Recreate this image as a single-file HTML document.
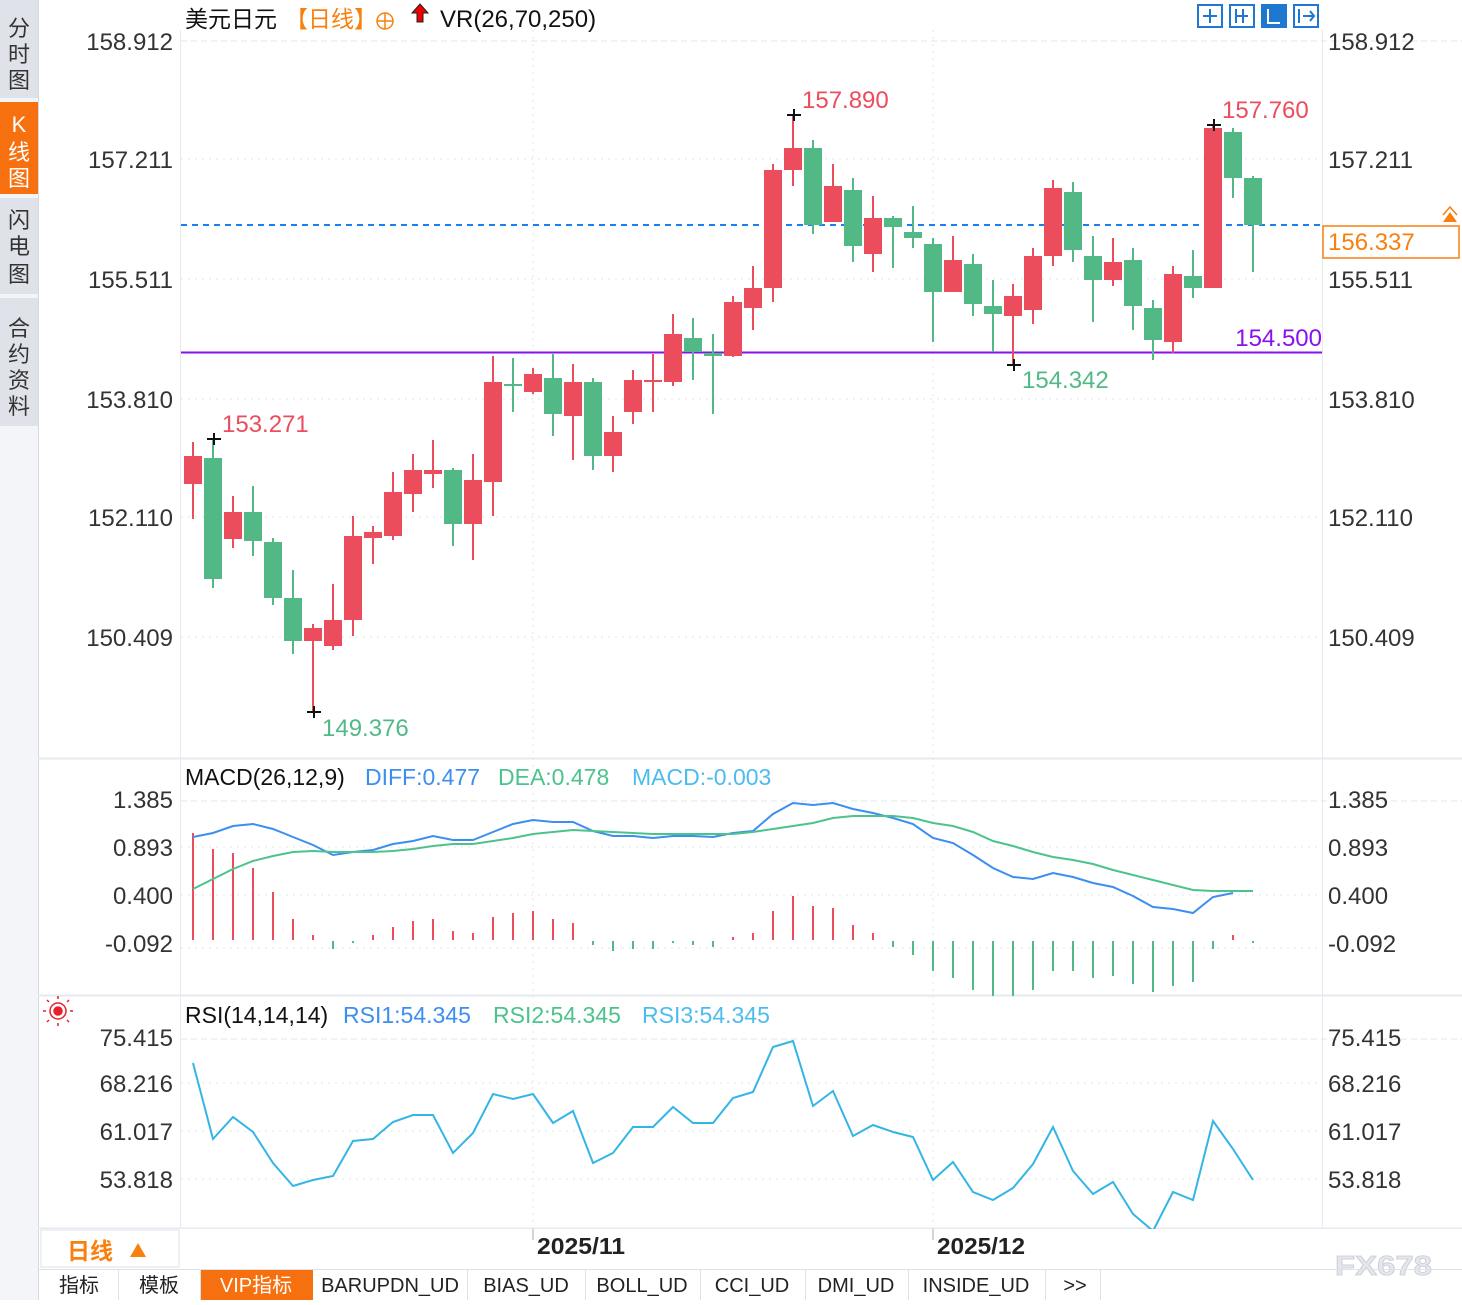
<!DOCTYPE html>
<html><head><meta charset="utf-8"><style>
html,body{margin:0;padding:0;background:#fff;}
svg text{font-family:"Liberation Sans","Noto Sans CJK SC",sans-serif;}
</style></head><body>
<svg width="1462" height="1300" viewBox="0 0 1462 1300" xmlns="http://www.w3.org/2000/svg">
<rect width="1462" height="1300" fill="#fff"/>
<!-- sidebar -->
<rect x="0" y="0" width="38" height="1300" fill="#f3f5f8"/>
<rect x="0" y="0" width="38" height="98" fill="#dfe2e8"/>
<rect x="0" y="102" width="38" height="92" fill="#f7700f"/>
<rect x="0" y="198" width="38" height="96" fill="#dfe2e8"/>
<rect x="0" y="298" width="38" height="128" fill="#dfe2e8"/>
<line x1="38.5" y1="0" x2="38.5" y2="1300" stroke="#d5dae2"/>
<g font-size="22" fill="#333" text-anchor="middle">
<text x="19" y="36">分</text><text x="19" y="62">时</text><text x="19" y="88">图</text>
<text x="19" y="132" fill="#fff">K</text><text x="19" y="160" fill="#fff">线</text><text x="19" y="186" fill="#fff">图</text>
<text x="19" y="228">闪</text><text x="19" y="254">电</text><text x="19" y="282">图</text>
<text x="19" y="336">合</text><text x="19" y="362">约</text><text x="19" y="388">资</text><text x="19" y="414">料</text>
</g>
<line x1="180.5" y1="30" x2="180.5" y2="1228" stroke="#e6eaf0"/>
<line x1="1322.5" y1="30" x2="1322.5" y2="1228" stroke="#e6eaf0"/>
<line x1="38" y1="758.5" x2="1462" y2="758.5" stroke="#e6eaf0" stroke-width="2"/>
<line x1="38" y1="995.5" x2="1462" y2="995.5" stroke="#e6eaf0" stroke-width="2"/>
<line x1="38" y1="1228.5" x2="1462" y2="1228.5" stroke="#e6eaf0" stroke-width="2"/>
<g stroke="#e3e6ea" stroke-dasharray="2,5">
<line x1="181" y1="159" x2="1322" y2="159"/><line x1="181" y1="279" x2="1322" y2="279"/><line x1="181" y1="399" x2="1322" y2="399"/><line x1="181" y1="517" x2="1322" y2="517"/><line x1="181" y1="637" x2="1322" y2="637"/>
<line x1="181" y1="847" x2="1322" y2="847"/><line x1="181" y1="895" x2="1322" y2="895"/><line x1="181" y1="948" x2="1322" y2="948"/>
<line x1="181" y1="1083" x2="1322" y2="1083"/><line x1="181" y1="1131" x2="1322" y2="1131"/><line x1="181" y1="1179" x2="1322" y2="1179"/>
<line x1="533" y1="30" x2="533" y2="1228"/><line x1="933" y1="30" x2="933" y2="1228"/>
</g>
<g stroke="#e3e6ea" stroke-dasharray="6,4">
<line x1="181" y1="41" x2="1462" y2="41"/><line x1="181" y1="801" x2="1462" y2="801"/><line x1="181" y1="1039" x2="1462" y2="1039"/>
</g>
<g font-size="24" fill="#333" text-anchor="end">
<text x="173" y="50">158.912</text><text x="173" y="168">157.211</text><text x="173" y="288">155.511</text><text x="173" y="408">153.810</text><text x="173" y="526">152.110</text><text x="173" y="646">150.409</text>
<text x="173" y="808">1.385</text><text x="173" y="856">0.893</text><text x="173" y="904">0.400</text><text x="173" y="952">-0.092</text>
<text x="173" y="1046">75.415</text><text x="173" y="1092">68.216</text><text x="173" y="1140">61.017</text><text x="173" y="1188">53.818</text>
</g>
<g font-size="24" fill="#333">
<text x="1328" y="50">158.912</text><text x="1328" y="168">157.211</text><text x="1328" y="288">155.511</text><text x="1328" y="408">153.810</text><text x="1328" y="526">152.110</text><text x="1328" y="646">150.409</text>
<text x="1328" y="808">1.385</text><text x="1328" y="856">0.893</text><text x="1328" y="904">0.400</text><text x="1328" y="952">-0.092</text>
<text x="1328" y="1046">75.415</text><text x="1328" y="1092">68.216</text><text x="1328" y="1140">61.017</text><text x="1328" y="1188">53.818</text>
</g>
<!-- title -->
<text x="185" y="27" font-size="23" fill="#111">美元日元</text>
<text x="285" y="27" font-size="23" fill="#f7800f">【日线】</text>
<circle cx="385" cy="21" r="8" fill="none" stroke="#f7800f" stroke-width="1.5"/><line x1="377" y1="21" x2="393" y2="21" stroke="#f7800f" stroke-width="1.5"/><line x1="385" y1="13" x2="385" y2="29" stroke="#f7800f" stroke-width="1.5"/>
<path d="M420 4 L428 13 L423 13 L423 22 L417 22 L417 13 L412 13 Z" fill="#e00" stroke="#222" stroke-width="1"/>
<text x="440" y="27" font-size="24" fill="#111">VR(26,70,250)</text>
<g fill="none" stroke="#1e78d0" stroke-width="2">
<rect x="1198" y="5" width="24" height="22"/><rect x="1230" y="5" width="24" height="22"/><rect x="1262" y="5" width="24" height="22" fill="#1e78d0"/><rect x="1294" y="5" width="24" height="22"/>
<path d="M1210 9v14M1203 16h14M1236 9v14M1243 9v14M1236 16h12M1299 9v14M1303 16h11M1310 11l4 5-4 5"/>
<path d="M1268 9v14h12" stroke="#fff"/>
</g>
<line x1="181" y1="225" x2="1322" y2="225" stroke="#1a7ff0" stroke-width="2" stroke-dasharray="6,5"/>
<line x1="181" y1="352.5" x2="1322" y2="352.5" stroke="#8a10ee" stroke-width="2"/>
<text x="1322" y="346" font-size="24" fill="#8a10ee" text-anchor="end">154.500</text>
<rect x="1323" y="226" width="136" height="32" fill="#fff" stroke="#f7800f" stroke-width="1.5"/>
<text x="1328" y="250" font-size="24" fill="#f7800f">156.337</text>
<path d="M1443 222 L1450 212 L1457 222 Z" fill="#f7800f"/><path d="M1443 215 L1450 207 L1457 215" fill="none" stroke="#f7800f" stroke-width="1.5"/>
<g>
<g stroke="#eb4d5c" stroke-width="2">
<line x1="193" y1="442" x2="193" y2="519"/><line x1="233" y1="496" x2="233" y2="548"/><line x1="313" y1="624" x2="313" y2="712"/><line x1="333" y1="584" x2="333" y2="650"/><line x1="353" y1="516" x2="353" y2="636"/><line x1="373" y1="526" x2="373" y2="564"/><line x1="393" y1="472" x2="393" y2="540"/><line x1="413" y1="454" x2="413" y2="512"/><line x1="433" y1="440" x2="433" y2="488"/><line x1="473" y1="454" x2="473" y2="560"/><line x1="493" y1="356" x2="493" y2="516"/><line x1="533" y1="368" x2="533" y2="394"/><line x1="573" y1="364" x2="573" y2="460"/><line x1="613" y1="416" x2="613" y2="472"/><line x1="633" y1="370" x2="633" y2="424"/><line x1="653" y1="354" x2="653" y2="412"/><line x1="673" y1="314" x2="673" y2="386"/><line x1="733" y1="296" x2="733" y2="357"/><line x1="753" y1="266" x2="753" y2="330"/><line x1="773" y1="164" x2="773" y2="302"/><line x1="793" y1="115" x2="793" y2="186"/><line x1="833" y1="164" x2="833" y2="222"/><line x1="873" y1="196" x2="873" y2="272"/><line x1="953" y1="236" x2="953" y2="292"/><line x1="1013" y1="284" x2="1013" y2="365"/><line x1="1033" y1="248" x2="1033" y2="324"/><line x1="1053" y1="180" x2="1053" y2="266"/><line x1="1113" y1="238" x2="1113" y2="286"/><line x1="1173" y1="266" x2="1173" y2="353"/><line x1="1213" y1="125" x2="1213" y2="288"/>
</g>
<g fill="#eb4d5c">
<rect x="184" y="456" width="18" height="28"/><rect x="224" y="512" width="18" height="27"/><rect x="304" y="628" width="18" height="13"/><rect x="324" y="620" width="18" height="26"/><rect x="344" y="536" width="18" height="84"/><rect x="364" y="532" width="18" height="6"/><rect x="384" y="492" width="18" height="44"/><rect x="404" y="470" width="18" height="24"/><rect x="424" y="470" width="18" height="4"/><rect x="464" y="480" width="18" height="44"/><rect x="484" y="382" width="18" height="100"/><rect x="524" y="374" width="18" height="18"/><rect x="564" y="382" width="18" height="34"/><rect x="604" y="432" width="18" height="24"/><rect x="624" y="380" width="18" height="32"/><rect x="644" y="380" width="18" height="2"/><rect x="664" y="334" width="18" height="48"/><rect x="724" y="302" width="18" height="54"/><rect x="744" y="288" width="18" height="20"/><rect x="764" y="170" width="18" height="118"/><rect x="784" y="148" width="18" height="22"/><rect x="824" y="186" width="18" height="36"/><rect x="864" y="218" width="18" height="36"/><rect x="944" y="260" width="18" height="32"/><rect x="1004" y="296" width="18" height="20"/><rect x="1024" y="256" width="18" height="54"/><rect x="1044" y="188" width="18" height="68"/><rect x="1104" y="262" width="18" height="18"/><rect x="1164" y="274" width="18" height="68"/><rect x="1204" y="128" width="18" height="160"/>
</g>
<g stroke="#52b986" stroke-width="2">
<line x1="213" y1="439" x2="213" y2="588"/><line x1="253" y1="486" x2="253" y2="556"/><line x1="273" y1="538" x2="273" y2="605"/><line x1="293" y1="570" x2="293" y2="654"/><line x1="453" y1="468" x2="453" y2="546"/><line x1="513" y1="358" x2="513" y2="412"/><line x1="553" y1="354" x2="553" y2="436"/><line x1="593" y1="378" x2="593" y2="470"/><line x1="693" y1="318" x2="693" y2="380"/><line x1="713" y1="334" x2="713" y2="414"/><line x1="813" y1="140" x2="813" y2="234"/><line x1="853" y1="178" x2="853" y2="262"/><line x1="893" y1="216" x2="893" y2="268"/><line x1="913" y1="206" x2="913" y2="248"/><line x1="933" y1="238" x2="933" y2="342"/><line x1="973" y1="254" x2="973" y2="316"/><line x1="993" y1="280" x2="993" y2="352"/><line x1="1073" y1="182" x2="1073" y2="262"/><line x1="1093" y1="236" x2="1093" y2="322"/><line x1="1133" y1="248" x2="1133" y2="330"/><line x1="1153" y1="300" x2="1153" y2="360"/><line x1="1193" y1="250" x2="1193" y2="298"/><line x1="1233" y1="128" x2="1233" y2="198"/><line x1="1253" y1="176" x2="1253" y2="272"/>
</g>
<g fill="#52b986">
<rect x="204" y="458" width="18" height="121"/><rect x="244" y="512" width="18" height="29"/><rect x="264" y="542" width="18" height="56"/><rect x="284" y="598" width="18" height="43"/><rect x="444" y="470" width="18" height="54"/><rect x="504" y="384" width="18" height="2"/><rect x="544" y="378" width="18" height="36"/><rect x="584" y="382" width="18" height="74"/><rect x="684" y="338" width="18" height="14"/><rect x="704" y="353" width="18" height="3"/><rect x="804" y="148" width="18" height="77"/><rect x="844" y="190" width="18" height="56"/><rect x="884" y="218" width="18" height="9"/><rect x="904" y="232" width="18" height="6"/><rect x="924" y="244" width="18" height="48"/><rect x="964" y="264" width="18" height="40"/><rect x="984" y="306" width="18" height="8"/><rect x="1064" y="192" width="18" height="58"/><rect x="1084" y="256" width="18" height="24"/><rect x="1124" y="260" width="18" height="46"/><rect x="1144" y="308" width="18" height="32"/><rect x="1184" y="276" width="18" height="12"/><rect x="1224" y="132" width="18" height="46"/><rect x="1244" y="178" width="18" height="47"/>
</g>
</g>
<g stroke="#111" stroke-width="2">
<path d="M207 439h14M214 433v12"/><path d="M307 712h14M314 706v12"/><path d="M787 115h14M794 109v12"/><path d="M1007 365h14M1014 359v12"/><path d="M1207 125h14M1214 119v12"/>
</g>
<g font-size="24">
<text x="222" y="432" fill="#eb4d5c">153.271</text>
<text x="322" y="736" fill="#52b986">149.376</text>
<text x="802" y="108" fill="#eb4d5c">157.890</text>
<text x="1222" y="118" fill="#eb4d5c">157.760</text>
<text x="1022" y="388" fill="#52b986">154.342</text>
</g>
<!-- MACD -->
<g font-size="23">
<text x="185" y="785" fill="#111">MACD(26,12,9)</text>
<text x="365" y="785" fill="#3c8ef0">DIFF:0.477</text>
<text x="498" y="785" fill="#4cc38a">DEA:0.478</text>
<text x="632" y="785" fill="#4cbcef">MACD:-0.003</text>
</g>
<g stroke="#eb4d5c" stroke-width="2">
<line x1="193" y1="833" x2="193" y2="940"/><line x1="213" y1="849" x2="213" y2="940"/><line x1="233" y1="853" x2="233" y2="940"/><line x1="253" y1="868" x2="253" y2="940"/><line x1="273" y1="892" x2="273" y2="940"/><line x1="293" y1="919" x2="293" y2="940"/><line x1="313" y1="935" x2="313" y2="940"/><line x1="373" y1="935" x2="373" y2="940"/><line x1="393" y1="927" x2="393" y2="940"/><line x1="413" y1="921" x2="413" y2="940"/><line x1="433" y1="919" x2="433" y2="940"/><line x1="453" y1="931" x2="453" y2="940"/><line x1="473" y1="933" x2="473" y2="940"/><line x1="493" y1="917" x2="493" y2="940"/><line x1="513" y1="913" x2="513" y2="940"/><line x1="533" y1="911" x2="533" y2="940"/><line x1="553" y1="919" x2="553" y2="940"/><line x1="573" y1="923" x2="573" y2="940"/><line x1="733" y1="937" x2="733" y2="940"/><line x1="753" y1="933" x2="753" y2="940"/><line x1="773" y1="911" x2="773" y2="940"/><line x1="793" y1="896" x2="793" y2="940"/><line x1="813" y1="906" x2="813" y2="940"/><line x1="833" y1="908" x2="833" y2="940"/><line x1="853" y1="925" x2="853" y2="940"/><line x1="873" y1="933" x2="873" y2="940"/><line x1="1233" y1="935" x2="1233" y2="940"/>
</g>
<g stroke="#52b986" stroke-width="2">
<line x1="333" y1="941" x2="333" y2="949"/><line x1="353" y1="941" x2="353" y2="943"/><line x1="593" y1="941" x2="593" y2="945"/><line x1="613" y1="941" x2="613" y2="951"/><line x1="633" y1="941" x2="633" y2="949"/><line x1="653" y1="941" x2="653" y2="949"/><line x1="673" y1="941" x2="673" y2="943"/><line x1="693" y1="941" x2="693" y2="945"/><line x1="713" y1="941" x2="713" y2="947"/><line x1="893" y1="941" x2="893" y2="947"/><line x1="913" y1="941" x2="913" y2="955"/><line x1="933" y1="941" x2="933" y2="971"/><line x1="953" y1="941" x2="953" y2="978"/><line x1="973" y1="941" x2="973" y2="990"/><line x1="993" y1="941" x2="993" y2="996"/><line x1="1013" y1="941" x2="1013" y2="996"/><line x1="1033" y1="941" x2="1033" y2="990"/><line x1="1053" y1="941" x2="1053" y2="971"/><line x1="1073" y1="941" x2="1073" y2="971"/><line x1="1093" y1="941" x2="1093" y2="978"/><line x1="1113" y1="941" x2="1113" y2="976"/><line x1="1133" y1="941" x2="1133" y2="984"/><line x1="1153" y1="941" x2="1153" y2="992"/><line x1="1173" y1="941" x2="1173" y2="986"/><line x1="1193" y1="941" x2="1193" y2="982"/><line x1="1213" y1="941" x2="1213" y2="949"/><line x1="1253" y1="941" x2="1253" y2="943"/>
</g>
<polyline fill="none" stroke="#3c8ef0" stroke-width="2" points="193,837 213,833 233,826 253,824 273,829 293,837 313,845 333,855 353,852 373,850 393,844 413,841 433,836 453,840 473,840 493,832 513,824 533,820 553,822 573,822 593,831 613,836 633,836 653,838 673,836 693,836 713,837 733,833 753,831 773,814 793,803 813,805 833,803 853,809 873,813 893,818 913,824 933,838 953,843 973,855 993,868 1013,877 1033,879 1053,873 1073,877 1093,883 1113,887 1133,896 1153,907 1173,909 1193,913 1213,897 1233,893"/>
<polyline fill="none" stroke="#4cc38a" stroke-width="2" points="193,889 213,879 233,869 253,861 273,856 293,852 313,851 333,852 353,852 373,852 393,851 413,849 433,846 453,844 473,844 493,841 513,838 533,834 553,832 573,830 593,831 613,832 633,833 653,834 673,834 693,834 713,834 733,834 753,832 773,829 793,826 813,823 833,818 853,816 873,816 893,816 913,818 933,823 953,826 973,832 993,841 1013,846 1033,852 1053,857 1073,860 1093,864 1113,870 1133,875 1153,880 1173,885 1193,890 1213,891 1233,891 1253,891"/>
<!-- RSI -->
<g transform="translate(58,1011)" stroke="#e8202a" stroke-width="1.5" fill="none"><circle r="4" fill="#e8202a"/><circle r="8"/><path d="M-12 0h-3M12 0h3M0 -12v-3M0 12v3M-9 -9l-2 -2M9 9l2 2M-9 9l-2 2M9 -9l2 -2"/></g>
<g font-size="23">
<text x="185" y="1023" fill="#111">RSI(14,14,14)</text>
<text x="343" y="1023" fill="#3c8ef0">RSI1:54.345</text>
<text x="493" y="1023" fill="#4cc38a">RSI2:54.345</text>
<text x="642" y="1023" fill="#4cbcef">RSI3:54.345</text>
</g>
<polyline fill="none" stroke="#33b5e5" stroke-width="2" points="193,1063 213,1139 233,1117 253,1132 273,1163 293,1186 313,1180 333,1176 353,1141 373,1139 393,1122 413,1115 433,1115 453,1153 473,1133 493,1094 513,1099 533,1094 553,1123 573,1111 593,1163 613,1153 633,1127 653,1127 673,1107 693,1123 713,1123 733,1098 753,1092 773,1047 793,1041 813,1106 833,1091 853,1136 873,1125 893,1132 913,1137 933,1180 953,1162 973,1192 993,1200 1013,1188 1033,1164 1053,1127 1073,1171 1093,1194 1113,1182 1133,1214 1153,1231 1173,1192 1193,1200 1213,1121 1233,1149 1253,1180"/>
<!-- bottom axis -->
<rect x="39" y="1229" width="1423" height="40" fill="#fff"/>
<rect x="41" y="1230" width="138" height="37" fill="#fff" stroke="#dde2ea"/>
<text x="67" y="1259" font-size="23" fill="#f7800f" font-weight="bold">日线</text>
<path d="M130 1257 L138 1243 L146 1257 Z" fill="#f7800f"/>
<line x1="533" y1="1229" x2="533" y2="1240" stroke="#aaa"/><line x1="933" y1="1229" x2="933" y2="1240" stroke="#aaa"/>
<text x="537" y="1254" font-size="23" font-weight="bold" fill="#222" textLength="88" lengthAdjust="spacingAndGlyphs">2025/11</text>
<text x="937" y="1254" font-size="23" font-weight="bold" fill="#222" textLength="88" lengthAdjust="spacingAndGlyphs">2025/12</text>
<text x="1335" y="1275" font-size="28" font-weight="bold" fill="#e4e7ec" stroke="#c8ccd4" stroke-width="0.8" textLength="97" lengthAdjust="spacingAndGlyphs">FX678</text>
<!-- tabs -->
<line x1="38" y1="1269.5" x2="1462" y2="1269.5" stroke="#dde2ea"/>
<rect x="200" y="1270" width="113" height="30" fill="#f7700f"/>
<g stroke="#dde2ea"><line x1="118.5" y1="1270" x2="118.5" y2="1300"/><line x1="200.5" y1="1270" x2="200.5" y2="1300"/><line x1="467.5" y1="1270" x2="467.5" y2="1300"/><line x1="585.5" y1="1270" x2="585.5" y2="1300"/><line x1="700.5" y1="1270" x2="700.5" y2="1300"/><line x1="805.5" y1="1270" x2="805.5" y2="1300"/><line x1="908.5" y1="1270" x2="908.5" y2="1300"/><line x1="1045.5" y1="1270" x2="1045.5" y2="1300"/><line x1="1100.5" y1="1270" x2="1100.5" y2="1300"/></g>
<g font-size="20" fill="#222" text-anchor="middle" font-family="Liberation Mono,Noto Sans CJK SC,monospace">
<text x="79" y="1292">指标</text><text x="159" y="1292">模板</text><text x="256" y="1292" fill="#fff">VIP指标</text><text x="390" y="1292">BARUPDN_UD</text><text x="526" y="1292">BIAS_UD</text><text x="642" y="1292">BOLL_UD</text><text x="752" y="1292">CCI_UD</text><text x="856" y="1292">DMI_UD</text><text x="976" y="1292">INSIDE_UD</text><text x="1075" y="1292">&gt;&gt;</text>
</g>
</svg>
</body></html>
